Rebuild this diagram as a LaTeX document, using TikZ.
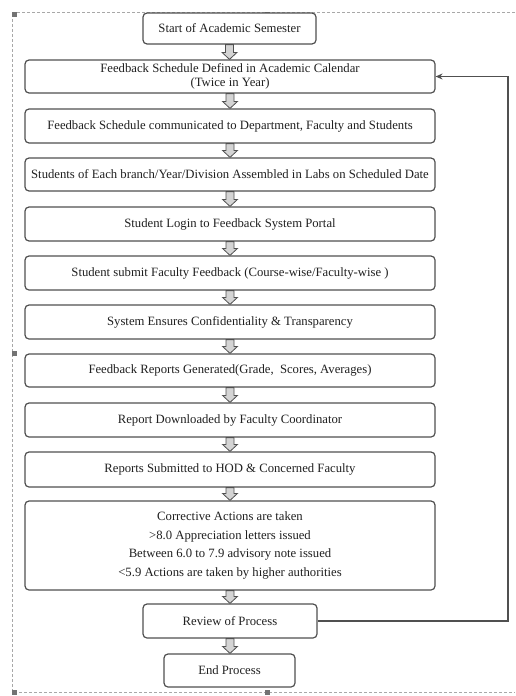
\documentclass[tikz,border=0pt]{standalone}
\usepackage{fontspec}
\setmainfont{Liberation Serif}
\usetikzlibrary{calc,arrows.meta}
\definecolor{boxline}{HTML}{505050}
\definecolor{txt}{HTML}{202020}
\definecolor{arrowfill}{HTML}{D4D4D4}
\definecolor{framegray}{HTML}{A8A8A8}
\tikzset{
  stepbox/.style={draw=boxline, line width=1.2pt, rounded corners=4pt, fill=white,
    text=txt, align=center, inner sep=0pt, minimum height=34pt,
    font=\fontsize{12.7}{14}\selectfont},
  widebox/.style={stepbox, minimum width=410pt},
  blockarrow/.style={draw=boxline, line width=0.8pt, fill=arrowfill,
    to path={let \p1=(\tikztostart), \p2=(\tikztotarget) in
      (\x1-4pt,\y1) -- (\x1+4pt,\y1) -- (\x1+4pt,\y2+7pt) -- (\x1+7.5pt,\y2+7pt)
      -- (\x1,\y2) -- (\x1-7.5pt,\y2+7pt) -- (\x1-4pt,\y2+7pt) -- cycle}},
  loopline/.style={draw=boxline, line width=1.2pt, -{Stealth[length=7pt,width=6pt]}},
  frameline/.style={draw=framegray, line width=0.7pt, densely dashed},
  handle/.style={fill=boxline!80}
}
\begin{document}
\begin{tikzpicture}[x=1pt,y=-1pt]
\useasboundingbox (0,0) rectangle (515,696);

% canvas frame with its selection handles
\draw[frameline] (515,12) -- (12,12) -- (12,692) -- (515,692);
\foreach \hx/\hy in {14/14, 267/14, 14/353, 14/692, 267/692}
  \fill[handle] (\hx-2.5,\hy-2.5) rectangle (\hx+2.5,\hy+2.5);

% process steps
\node[stepbox, minimum width=173pt, minimum height=31pt] (s1) at (229.5,28.5) {Start of Academic Semester};
\node[widebox, minimum height=33pt, font=\fontsize{12.7}{13.5}\selectfont] (s2) at (230,76.5)
  {Feedback Schedule Defined in Academic Calendar\\(Twice in Year)};
\node[widebox] (s3) at (230,126) {Feedback Schedule communicated to Department, Faculty and Students};
\node[widebox, minimum height=33pt] (s4) at (230,174.5) {Students of Each branch/Year/Division Assembled in Labs on Scheduled Date};
\node[widebox] (s5) at (230,224) {Student Login to Feedback System Portal};
\node[widebox] (s6) at (230,273) {Student submit Faculty Feedback (Course-wise/Faculty-wise )};
\node[widebox] (s7) at (230,322) {System Ensures Confidentiality \& Transparency};
\node[widebox, minimum height=33pt] (s8) at (230,370.5) {Feedback Reports Generated(Grade,\ \ Scores, Averages)};
\node[widebox] (s9) at (230,420) {Report Downloaded by Faculty Coordinator};
\node[widebox, minimum height=35pt] (s10) at (230,469.5) {Reports Submitted to HOD \& Concerned Faculty};
\node[widebox, minimum height=89pt, font=\fontsize{12.7}{18.5}\selectfont] (s11) at (230,545.5)
  {Corrective Actions are taken\\>8.0 Appreciation letters issued\\Between 6.0 to 7.9 advisory note issued\\<5.9 Actions are taken by higher authorities};
\node[stepbox, minimum width=174pt] (s12) at (230,621) {Review of Process};
\node[stepbox, minimum width=131pt, minimum height=33pt] (s13) at (229.5,670.5) {End Process};

% block arrows between consecutive steps
\foreach \a/\b in {s1/s2, s2/s3, s3/s4, s4/s5, s5/s6, s6/s7, s7/s8, s8/s9, s9/s10, s10/s11, s11/s12, s12/s13}
  \path[blockarrow] (\a.south) to (\b.north);

% review loops back to the schedule definition
\coordinate (loopbottom) at (508,621);
\coordinate (looptop) at (508,76.5);
\draw[loopline] (s12.east) -- (loopbottom) -- (looptop) -- (s2.east);
\end{tikzpicture}
\end{document}
